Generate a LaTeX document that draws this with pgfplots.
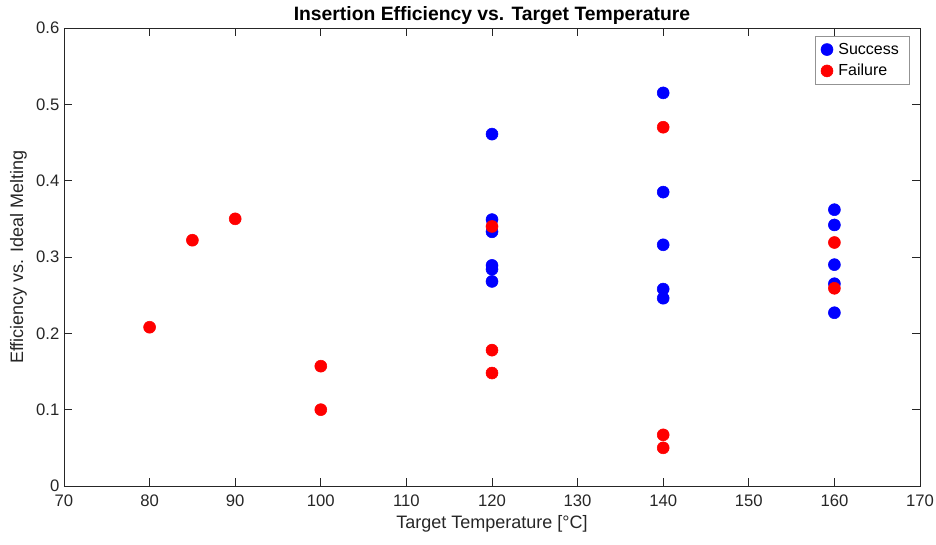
\documentclass[border=0pt]{standalone}
\usepackage{pgfplots}
\pgfplotsset{compat=1.18}
\usepackage{fontspec}
\setmainfont{Liberation Sans}
\definecolor{mgray}{rgb}{0.15,0.15,0.15}
\definecolor{mblue}{rgb}{0,0,1}
\definecolor{mred}{rgb}{1,0,0}
\begin{document}
\begin{tikzpicture}
\useasboundingbox (-48pt,-43.5pt) rectangle (654pt,364.5pt);
\begin{axis}[
  at={(0,0)}, anchor=south west,
  scale only axis, width=642pt, height=343.5pt,
  xmin=70, xmax=170, ymin=0, ymax=0.6,
  xtick={70,80,...,170}, ytick={0,0.1,...,0.6},
  yticklabels={0,0.1,0.2,0.3,0.4,0.5,0.6},
  /pgf/number format/assume math mode=true,
  tick align=inside, tick pos=both,
  major tick length=6pt,
  axis line style={mgray, line width=0.5pt},
  tick style={mgray, line width=0.5pt},
  every tick label/.append style={font=\fontsize{12.5}{14}\selectfont, text=mgray},
  xticklabel style={yshift=-3pt},
  title={\bfseries Insertion Efficiency vs. Target Temperature},
  title style={font=\fontsize{14.5}{16}\selectfont, yshift=-7pt},
  xlabel={Target Temperature [°C]},
  ylabel={Efficiency vs. Ideal Melting},
  label style={font=\fontsize{13.5}{15}\selectfont, text=mgray},
  xlabel style={yshift=0pt},
  ylabel style={yshift=0pt},
  legend style={at={(0.988,0.9825)}, anchor=north east, draw=mgray!50,
    font=\fontsize{12}{14}\selectfont, row sep=2pt, inner xsep=4pt, inner ysep=3pt,
    nodes={inner xsep=4pt}},
  legend image code/.code={\draw[#1, mark repeat=2, mark phase=2] plot coordinates {(0pt,0pt) (7pt,0pt) (14pt,0pt)};},
  legend cell align=left,
]
\addplot[only marks, mark=*, mark size=4.5pt, mblue, mark options={draw=mblue, fill=mblue}] coordinates {
(120,0.461) (120,0.349) (120,0.333) (120,0.289) (120,0.284) (120,0.268)
(140,0.515) (140,0.385) (140,0.316) (140,0.258) (140,0.246)
(160,0.362) (160,0.342) (160,0.290) (160,0.265) (160,0.227)
};
\addlegendentry{Success}
\addplot[only marks, mark=*, mark size=4.5pt, mred, mark options={draw=mred, fill=mred}] coordinates {
(80,0.208) (85,0.322) (90,0.350) (100,0.157) (100,0.100)
(120,0.340) (120,0.178) (120,0.148)
(140,0.470) (140,0.067) (140,0.050)
(160,0.319) (160,0.259)
};
\addlegendentry{Failure}
\end{axis}
\end{tikzpicture}
\end{document}
